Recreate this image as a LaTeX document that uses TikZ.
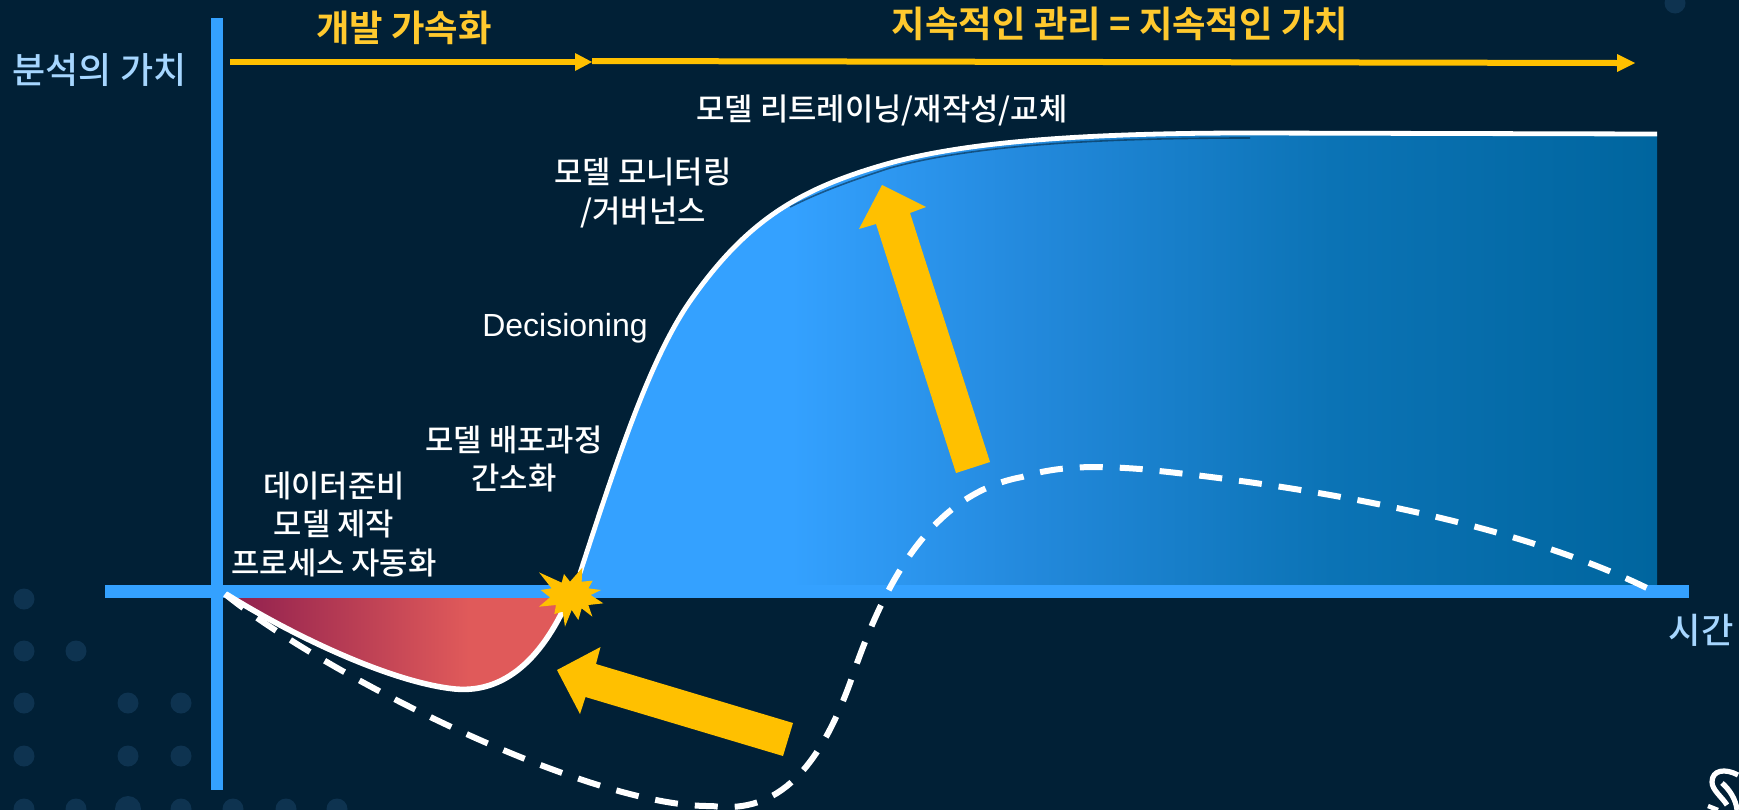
\documentclass[tikz,border=0pt]{standalone}
\usepackage{fontspec}
\setmainfont{Noto Sans CJK KR Medium}[BoldFont={Noto Sans CJK KR Bold}]
\newfontfamily\latinfont{Liberation Sans}
\definecolor{bgnavy}{HTML}{012036}
\definecolor{dotblue}{HTML}{0E3350}
\definecolor{axisblue}{HTML}{34A1FF}
\definecolor{fadeone}{HTML}{2389DC}
\definecolor{fadetwo}{HTML}{0B73B5}
\definecolor{fadethree}{HTML}{00659E}
\definecolor{goldy}{HTML}{FFC000}
\definecolor{titlegold}{HTML}{FFC92E}
\definecolor{paleblue}{HTML}{A6D6FF}
\definecolor{redleft}{HTML}{8F1F4E}
\definecolor{redright}{HTML}{E05A5A}
\pgfdeclarehorizontalshading{bluefade}{100bp}{
  color(0bp)=(axisblue);
  color(35bp)=(axisblue);
  color(46bp)=(fadeone);
  color(60bp)=(fadetwo);
  color(75bp)=(fadethree);
  color(100bp)=(fadethree)}
\pgfdeclarehorizontalshading{redfade}{100bp}{
  color(0bp)=(redleft);
  color(25bp)=(redleft);
  color(60bp)=(redright);
  color(100bp)=(redright)}
\tikzset{
  px/.style={x=0.5pt,y=-0.5pt},
  bgdot/.style={fill=dotblue},
  axisline/.style={fill=axisblue},
  whitecurve/.style={draw=white,line width=2.4pt,line join=round},
  dashcurve/.style={draw=white,line width=3pt,dash pattern=on 11.5pt off 8.5pt},
  goldshape/.style={fill=goldy},
  goldrule/.style={draw=goldy,line width=3pt},
  wlabel/.style={text=white,inner sep=0pt,align=center,font=\fontsize{15.4pt}{19.25pt}\selectfont},
  ylabel/.style={text=titlegold,inner sep=0pt,font=\fontsize{18.2pt}{22pt}\selectfont\bfseries},
  alabel/.style={text=paleblue,inner sep=0pt,font=\fontsize{17.6pt}{22pt}\selectfont}
}
\begin{document}
\begin{tikzpicture}[px]
\useasboundingbox (0,0) rectangle (1739,809);
\fill[bgnavy] (-5,-5) rectangle (1745,815);
% background dots
\foreach \x/\y in {24/599,24/651,76/651,24/703,128/703,181/703,24/756,128/756,181/756,
  24/809,76/809,181/809,233/809,286/809,337/809,1675/3}
  \fill[bgdot] (\x,\y) circle (10.5);
\fill[bgdot] (128,809) circle (13);
% blue area
\path[shading=bluefade]
  (580,573) .. controls (620,450) and (652,354) .. (693,297)
  .. controls (748,220) and (800,188) .. (890,163)
  .. controls (970,141) and (1090,133) .. (1250,133)
  -- (1657,134) -- (1657,590) -- (575,590) -- cycle;
% red area
\path[shading=redfade]
  (228,595) .. controls (300,640) and (395,683) .. (455,689)
  .. controls (510,694) and (548,650) .. (572,590) -- cycle;
% axes
\fill[axisline] (105,585) rectangle (1689,597.5);
\fill[axisline] (211,18) rectangle (223,790);
% soft edge under the white curve
\draw[bgnavy,opacity=0.55,line width=0.8pt]
  (790,207) .. controls (820,192) and (850,181) .. (890,168)
  .. controls (970,146) and (1090,138) .. (1250,138);
% white curves
\draw[whitecurve]
  (580,573) .. controls (620,450) and (652,354) .. (693,297)
  .. controls (748,220) and (800,188) .. (890,163)
  .. controls (970,141) and (1090,133) .. (1250,133)
  -- (1657,134);
\draw[whitecurve,line width=2.8pt]
  (226,594) .. controls (300,640) and (395,683) .. (455,689)
  .. controls (510,694) and (548,650) .. (572,590);
% dashed curve
\draw[dashcurve]
  (225,594) .. controls (325,675) and (590,808) .. (712,806)
  .. controls (780,815) and (820,765) .. (850,683)
  .. controls (880,595) and (925,495) .. (1022,477)
  .. controls (1060,465) and (1100,466) .. (1140,469)
  .. controls (1300,485) and (1510,520) .. (1651,590);
% star
\begin{scope}[shift={(520,540)},x=0.16667pt,y=-0.16667pt]
\fill[goldshape] (57,97) -- (125,128) -- (132,102) -- (150,125) -- (187,83) -- (185,125) -- (218,122) -- (205,145) -- (243,150) -- (212,165) -- (250,190) -- (205,195) -- (217,230) -- (185,205) -- (175,240) -- (155,210) -- (135,260) -- (128,215) -- (103,222) -- (108,195) -- (57,200) -- (90,172) -- (62,150) -- (95,145) -- cycle;
\end{scope}
% big arrows
\fill[goldshape] (882,185) -- (926,207) -- (910,213) -- (990,462) -- (956,473) -- (876,224) -- (859,229) -- cycle;
\fill[goldshape] (557,670) -- (600.5,647) -- (596,664) -- (793,723) -- (783,756) -- (585.5,697) -- (580,714) -- cycle;
% timeline arrows
\coordinate (devstart) at (230,62);
\coordinate (devend) at (575,62);
\coordinate (devtip) at (592,62);
\coordinate (valstart) at (592,61);
\coordinate (valend) at (1617,63);
\coordinate (valtip) at (1635,63);
\draw[goldrule] (devstart) -- (devend);
\fill[goldshape] (575,53) -- (devtip) -- (575,71) -- cycle;
\draw[goldrule] (valstart) -- (valend);
\fill[goldshape] (1617,54) -- (valtip) -- (1617,72) -- cycle;
% logo
\draw[white,line width=2.6pt] (1738,775) .. controls (1725,768) and (1712,770) .. (1712,782) .. controls (1712,790) and (1722,797) .. (1727,805);
\draw[white,line width=2.6pt] (1722,783) .. controls (1730,790) and (1736,800) .. (1737,810);
\draw[white,line width=2.2pt] (1708,806) -- (1718,810);
% labels
\node[ylabel] (devtitle) at (404,28) {개발 가속화};
\node[ylabel] (valtitle) at (1120,24) {지속적인 관리 = 지속적인 가치};
\node[alabel,font=\fontsize{18pt}{22pt}\selectfont] (yaxis) at (99.5,70) {분석의 가치};
\node[alabel] (xaxis) at (1701,630) {시간};
\node[wlabel] (retrain) at (882,110) {모델 리트레이닝/재작성/교체};
\node[wlabel] (monitor) at (643,193) {모델 모니터링\\/거버넌스};
\node[wlabel,font=\fontsize{16pt}{19pt}\latinfont] (decision) at (565,328) {Decisioning};
\node[wlabel] (deploy) at (514,459) {모델 배포과정\\간소화};
\node[wlabel] (prep) at (334,524) {데이터준비\\모델 제작\\프로세스 자동화};
\end{tikzpicture}
\end{document}
